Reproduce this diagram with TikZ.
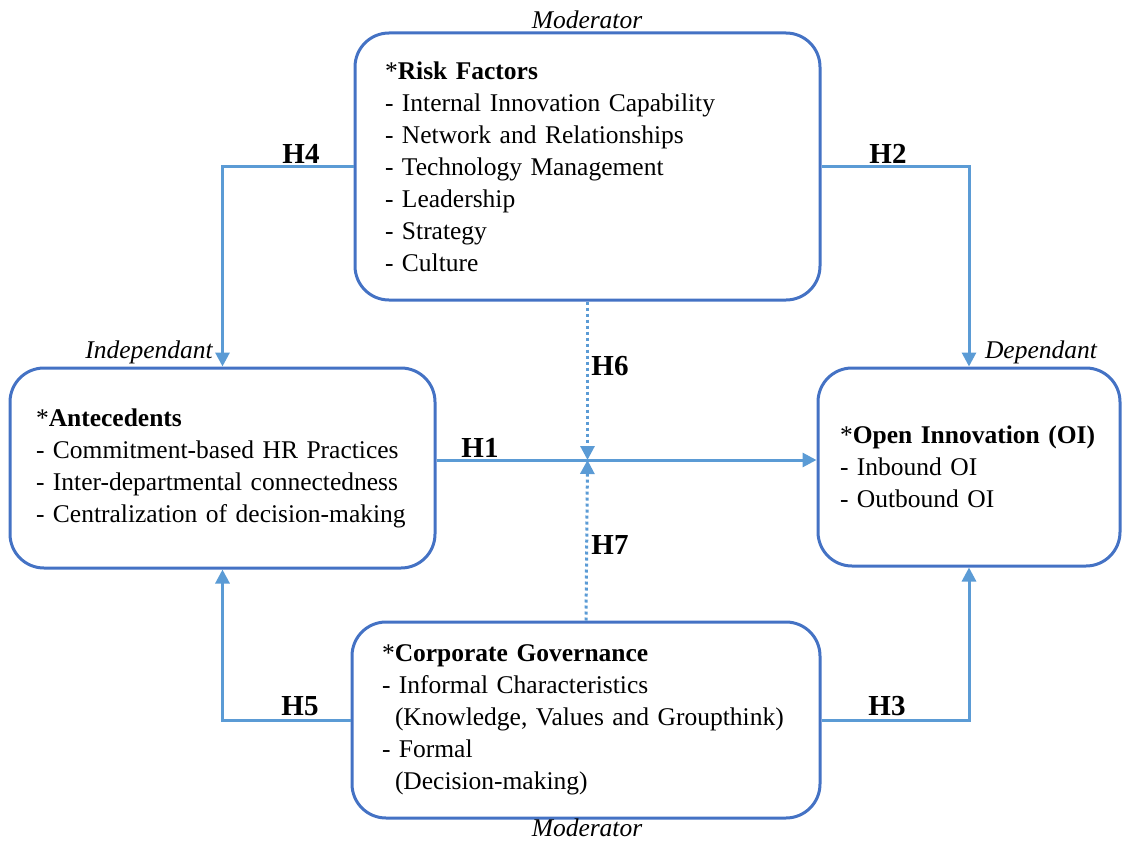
\documentclass[tikz,border=0pt]{standalone}
\usepackage{fontspec}
\setmainfont{Liberation Serif}
\usepackage{xcolor}
\usetikzlibrary{arrows.meta, positioning}

\definecolor{boxblue}{HTML}{4472C4}
\definecolor{linkblue}{HTML}{5B9BD5}

\tikzset{
  factor/.style={rectangle, rounded corners=34pt, draw=boxblue, line width=3pt, align=left, inner ysep=0pt, font=\fontsize{25.5}{32}\selectfont},
  link/.style={-{Triangle[length=14pt,width=14pt]}, linkblue, line width=3pt},
  modlink/.style={link, dash pattern=on 3pt off 3pt},
  hyp/.style={font=\fontsize{29}{32}\selectfont\bfseries},
  role/.style={font=\fontsize{25.5}{30}\selectfont\itshape},
}

\begin{document}
\begin{tikzpicture}[x=1pt, y=-1pt]
\useasboundingbox (0,0) rectangle (1122,843);

\node (risk) [factor, inner xsep=30pt, text width=405pt, minimum height=267pt] at (587.5,166.5) {*\textbf{Risk Factors}\\- Internal Innovation Capability\\- Network and Relationships\\- Technology Management\\- Leadership\\- Strategy\\- Culture};
\node (ante) [factor, inner xsep=26pt, text width=373pt, minimum height=200pt] at (222.5,468) {*\textbf{Antecedents}\\- Commitment-based HR Practices\\- Inter-departmental connectedness\\- Centralization of decision-making};
\node (oi) [factor, inner xsep=22pt, text width=258pt, minimum height=198pt] at (969,467) {*\textbf{Open Innovation (OI)}\\- Inbound OI\\- Outbound OI};
\node (gov) [factor, inner xsep=30pt, text width=408pt, minimum height=196pt] at (586,720) {*\textbf{Corporate Governance}\\- Informal Characteristics\\\hspace*{13pt}(Knowledge, Values and Groupthink)\\- Formal\\\hspace*{13pt}(Decision-making)};

% roles
\node (modtop) [role] at (587,20) {Moderator};
\node (modbot) [role] at (587,828) {Moderator};
\node (indep) [role] at (149,352) {Independant};
\node (dep) [role] at (1041,352) {Dependant};

\coordinate (hub) at (587.5,460);

% hypotheses
\draw[link] (risk.west) -| (ante.north);
\draw[link] (risk.east) -| (oi.north);
\draw[link] (ante.east |- hub) -- (oi.west |- hub);
\draw[modlink] (risk.south) -- (hub);
\draw[modlink] (gov.north) -- (hub);
\draw[link] (gov.west) -| (ante.south);
\draw[link] (gov.east) -| (oi.south);

\node (h4) [hyp] at (301,154) {H4};
\node (h2) [hyp] at (888,154) {H2};
\node (h1) [hyp] at (480,448) {H1};
\node (h6) [hyp] at (610,366) {H6};
\node (h7) [hyp] at (610,545) {H7};
\node (h5) [hyp] at (300,706) {H5};
\node (h3) [hyp] at (887,706) {H3};
\end{tikzpicture}
\end{document}
